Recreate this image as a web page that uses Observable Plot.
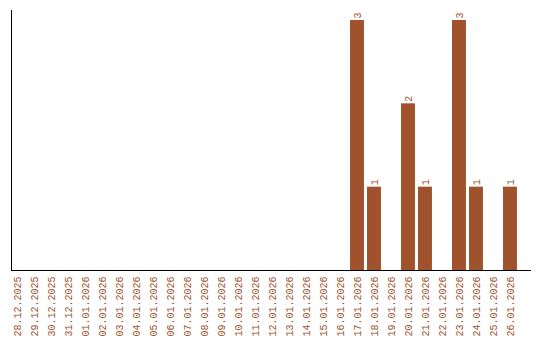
<!DOCTYPE html>
<html>
<head>
<meta charset="utf-8">
<script src="https://cdn.jsdelivr.net/npm/d3@7"></script>
<script src="https://cdn.jsdelivr.net/npm/@observablehq/plot@0.6"></script>
<style>
  html, body { margin: 0; padding: 0; background: #fff; }
  #chart svg { display: block; }
</style>
</head>
<body>
<div id="chart"></div>
<script>
const dates = ["28.12.2025","29.12.2025","30.12.2025","31.12.2025","01.01.2026","02.01.2026","03.01.2026","04.01.2026","05.01.2026","06.01.2026","07.01.2026","08.01.2026","09.01.2026","10.01.2026","11.01.2026","12.01.2026","13.01.2026","14.01.2026","15.01.2026","16.01.2026","17.01.2026","18.01.2026","19.01.2026","20.01.2026","21.01.2026","22.01.2026","23.01.2026","24.01.2026","25.01.2026","26.01.2026"];
const counts = [0,0,0,0,0,0,0,0,0,0,0,0,0,0,0,0,0,0,0,0,3,1,0,2,1,0,3,1,0,1];

const data = dates.map((d, i) => ({date: d, count: counts[i]}));
const color = "#a0522d";

const chart = Plot.plot({
  width: 540,
  height: 340,
  marginTop: 10,
  marginLeft: 11,
  marginRight: 10,
  marginBottom: 70,
  style: {fontFamily: "'Liberation Mono', monospace", fontSize: "10px", background: "#fff"},
  x: {domain: dates, range: [7, 520], padding: 0.18, round: false, axis: null},
  y: {domain: [0, 3], range: [270, 20], axis: null},
  marks: [
    Plot.barY(data, {x: "date", y: "count", fill: color}),
    Plot.text(data.filter(d => d.count > 0), {x: "date", y: "count", text: d => String(d.count), rotate: -90, textAnchor: "start", dy: -2, fill: color, fontSize: 10}),
    Plot.axisX({tickSize: 0, tickRotate: -90, tickPadding: 6, color: color, fontSize: 10, label: null}),
    Plot.frame({anchor: "left", stroke: "#000"}),
    Plot.frame({anchor: "bottom", stroke: "#000"})
  ]
});
document.getElementById("chart").appendChild(chart);
</script>
</body>
</html>
